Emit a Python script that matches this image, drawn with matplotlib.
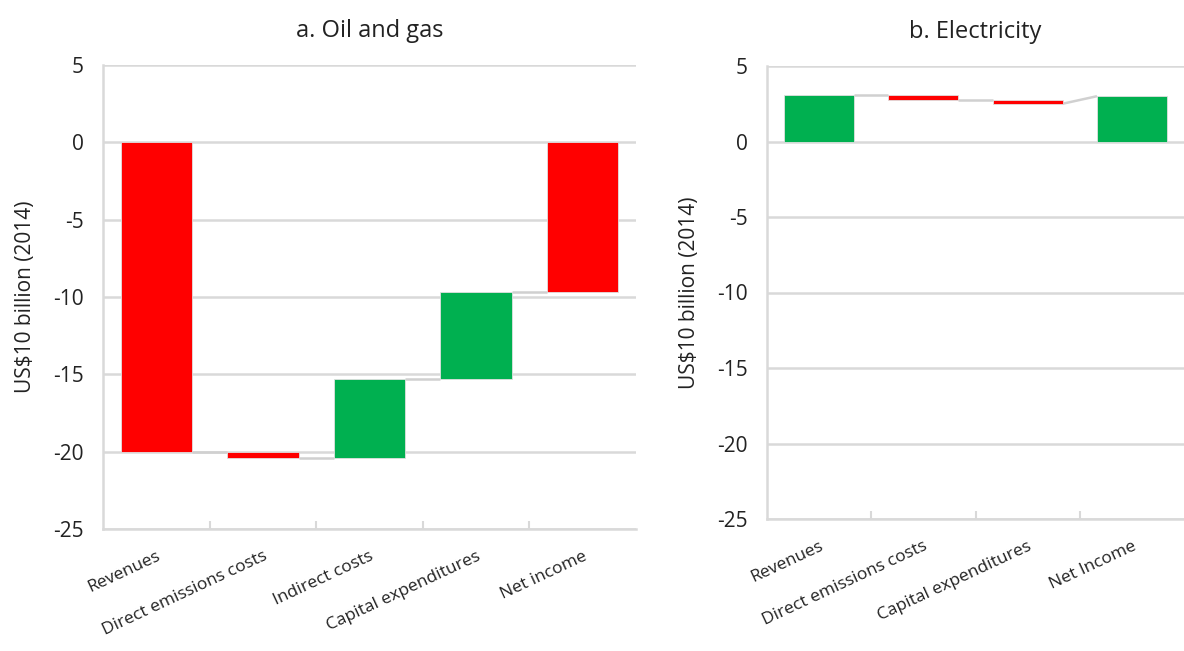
import matplotlib
matplotlib.use("Agg")
import matplotlib.pyplot as plt

plt.rcParams['font.family'] = ['Open Sans', 'DejaVu Sans']

# Oil and gas waterfall (US$10 billion, 2014)
oil_categories = ["Revenues", "Direct emissions costs", "Indirect costs",
                  "Capital expenditures", "Net income"]
oil_changes = [-20.0, -0.4, 5.1, 5.6, -9.7]
oil_is_total = [False, False, False, False, True]

# Electricity waterfall (US$10 billion, 2014)
elec_categories = ["Revenues", "Direct emissions costs",
                   "Capital expenditures", "Net Income"]
elec_changes = [3.1, -0.35, -0.25, 3.0]
elec_is_total = [False, False, False, True]

y_ticks = [5, 0, -5, -10, -15, -20, -25]

RED = "#FF0000"
GREEN = "#00B050"
GRID = "#D9D9D9"
CONNECT = "#D0D0D0"
BAR_W = 0.67


def waterfall(ax, categories, changes, is_total, title):
    n = len(categories)
    cum = 0.0
    ends = []
    starts = []
    for i, (chg, tot) in enumerate(zip(changes, is_total)):
        if tot:
            bottom, height = 0.0, chg
            start, end = chg, chg
            cum = chg
        else:
            bottom, height = cum, chg
            start = cum
            cum = cum + chg
            end = cum
        color = GREEN if chg > 0 else RED
        ax.bar(i, height, bottom=bottom, width=BAR_W, color=color,
               edgecolor="#E0E0E0", linewidth=0.6, zorder=3)
        starts.append(start)
        ends.append(end)
    # connector lines between consecutive bars
    for i in range(n - 1):
        ax.plot([i + BAR_W / 2, i + 1 - BAR_W / 2], [ends[i], starts[i + 1]],
                color=CONNECT, linewidth=1.8, zorder=2, solid_capstyle="butt")

    ax.set_xlim(-0.5, n - 0.5)
    ax.set_ylim(-25, 5)
    ax.set_yticks(y_ticks)
    ax.set_yticklabels([str(v) for v in y_ticks], fontsize=15, color="#222222")
    ax.yaxis.grid(True, color=GRID, linewidth=1.8, zorder=0)
    ax.set_axisbelow(True)
    ax.tick_params(axis="y", length=0, pad=14)

    ax.set_xticks(range(n))
    ax.set_xticklabels(categories, rotation=25, ha="right",
                       rotation_mode="anchor", fontsize=12.5, color="#222222")
    ax.tick_params(axis="x", length=0, pad=14)
    ax.set_xticks([i + 0.5 for i in range(n - 1)], minor=True)
    ax.tick_params(axis="x", which="minor", direction="in", length=6,
                   width=1.5, color=GRID)

    for s in ("top", "right"):
        ax.spines[s].set_visible(False)
    for s in ("left", "bottom"):
        ax.spines[s].set_color(GRID)
        ax.spines[s].set_linewidth(1.8)

    ax.set_ylabel("US$10 billion (2014)", fontsize=15, color="#222222",
                  labelpad=12)
    ax.set_title(title, fontsize=17, color="#222222", pad=20)


fig = plt.figure(figsize=(11.84, 6.51), dpi=100)
ax1 = fig.add_axes([103 / 1184, 122 / 651, 533 / 1184, 464 / 651])
ax2 = fig.add_axes([767 / 1184, 132 / 651, 417 / 1184, 453 / 651])

waterfall(ax1, oil_categories, oil_changes, oil_is_total, "a. Oil and gas")
waterfall(ax2, elec_categories, elec_changes, elec_is_total, "b. Electricity")

fig.savefig("out.png", dpi=100, facecolor="white")
